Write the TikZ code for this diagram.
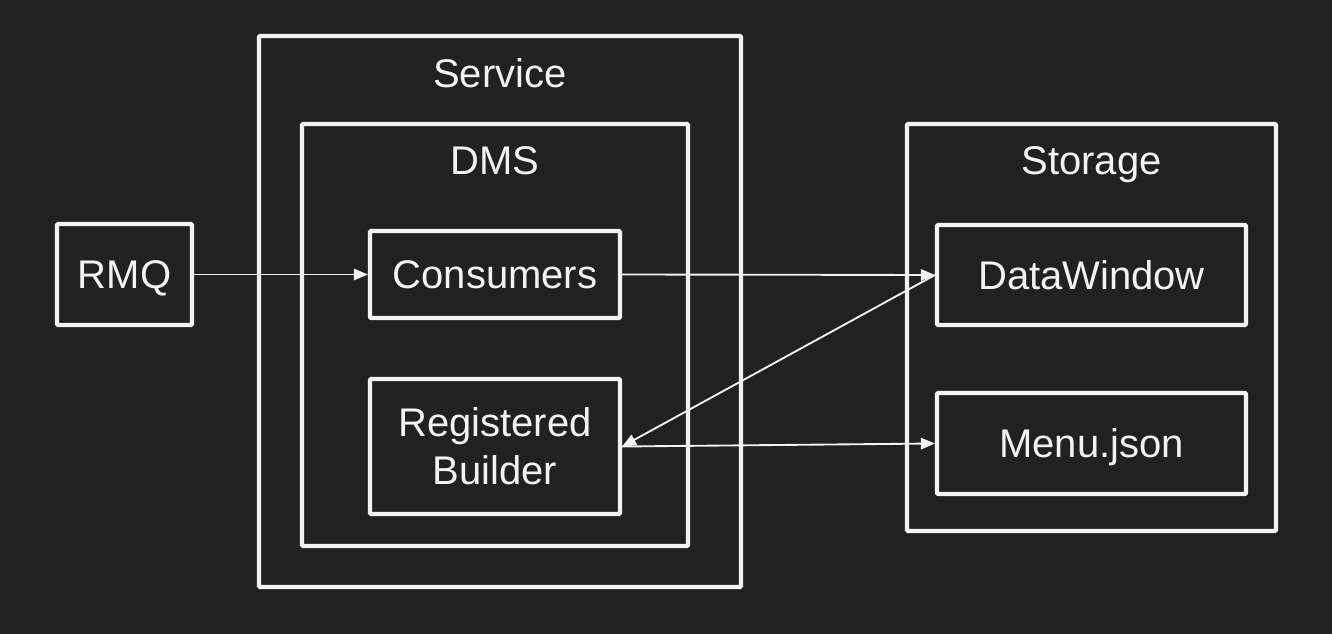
\documentclass[tikz,border=0pt]{standalone}
\usepackage{fontspec}
\setmainfont{Liberation Sans}
\usetikzlibrary{arrows.meta}
\definecolor{bg}{HTML}{212121}
\definecolor{fg}{HTML}{F2F2F2}
\begin{document}
\begin{tikzpicture}[x=0.75pt,y=-0.75pt,
  box/.style={draw=fg,line width=3.1pt,rounded corners=0.8pt,rectangle,inner sep=0pt,text=fg,align=center,font=\fontsize{30}{36}\selectfont},
  capc/.style={text height=21.5pt,text depth=0pt},
  title/.style={text=fg,inner sep=0pt,font=\fontsize{30}{36}\selectfont,text height=21.5pt,text depth=0pt},
  conn/.style={draw=fg,line width=1.4pt,-{Triangle[length=10.5pt,width=8.5pt]}}]
\fill[bg] (0,0) rectangle (1332,634);
\useasboundingbox (0,0) rectangle (1332,634);
\node[box,minimum width=361.5pt,minimum height=413.25pt] (service) at (500,311.5) {};
\node[title] (servicet) at (500,73.5) {Service};
\node[box,minimum width=289.5pt,minimum height=316.5pt] (dms) at (495,335) {};
\node[title] (dmst) at (495,160.5) {DMS};
\node[box,minimum width=276.75pt,minimum height=305.25pt] (storage) at (1091.5,327.5) {};
\node[title] (storaget) at (1091.5,160.5) {Storage};
\node[box,capc,minimum width=101.25pt,minimum height=75.75pt] (rmq) at (124.5,274.5) {RMQ};
\node[box,capc,minimum width=187.5pt,minimum height=65.25pt] (cons) at (495,274.5) {Consumers};
\node[box,minimum width=187.5pt,minimum height=101.25pt] (rb) at (495,446.5) {Registered\\Builder};
\node[box,capc,minimum width=231.75pt,minimum height=75pt] (dw) at (1091.5,275) {DataWindow};
\node[box,capc,minimum width=231.75pt,minimum height=75.75pt] (menu) at (1091.5,443.5) {Menu.json};
\draw[conn] (rmq.east) -- (cons.west);
\draw[conn] (cons.east) -- (dw.west);
\draw[conn] (dw.west) -- (rb.east);
\draw[conn] (rb.east) -- (menu.west);
\end{tikzpicture}
\end{document}
